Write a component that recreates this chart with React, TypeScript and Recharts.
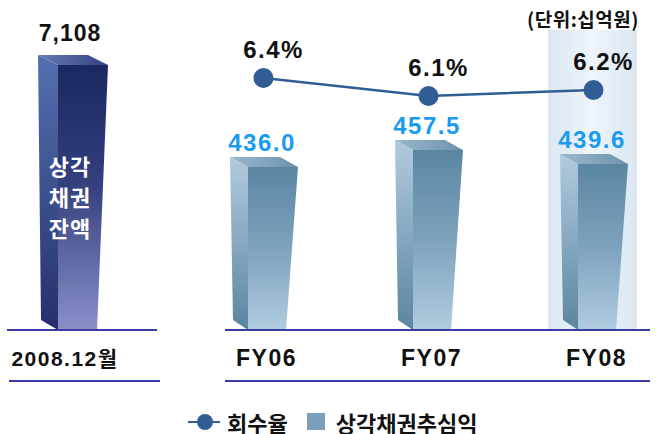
import React from "react";
import {
  Bar,
  ComposedChart,
  LabelList,
  Legend,
  Line,
  XAxis,
  YAxis,
} from "recharts";

// left panel: write-off balance at end of 2008
const balanceLabels = ["2008.12월"];
const balanceValues = [7108];
const balanceCaption = ["상각", "채권", "잔액"];

// right panel: yearly collections and recovery rate
const years = ["FY06", "FY07", "FY08"];
const collections = [436.0, 457.5, 439.6];
const recoveryRates = [6.4, 6.1, 6.2];
const highlightYear = "FY08";

const unitLabel = "(단위:십억원)";
const rateName = "회수율";
const collectionName = "상각채권추심익";

const balanceData = balanceLabels.map((name, i) => ({
  name,
  balance: balanceValues[i],
}));
const yearData = years.map((name, i) => ({
  name,
  collection: collections[i],
  rate: recoveryRates[i],
}));

const LATIN = "'Liberation Sans', Arial, 'Noto Sans CJK KR', sans-serif";
const KOREAN = "'Noto Sans CJK KR', 'Liberation Sans', sans-serif";
const RATE_COLOR = "#2f5d94";
const BAR_COLOR = "#7a9fbd";
const VALUE_COLOR = "#1a9bf0";
const RULE_COLOR = "#3b3ba6";

// fake 3D column: side face on the left, front face, top face above
const make3DBar =
  (ids: { side: string; front: string; top: string }, side: number, rise: number, taper: number) =>
  (props: any) => {
    const { x, y, width, height } = props;
    const fx = x + side;
    const rx = x + width;
    const by = y + height;
    return (
      <g>
        <polygon
          points={`${x},${y - rise} ${fx},${y} ${fx},${by} ${x + 3},${by - 10}`}
          fill={`url(#${ids.side})`}
        />
        <polygon
          points={`${fx},${y} ${rx},${y} ${rx - taper},${by} ${fx},${by}`}
          fill={`url(#${ids.front})`}
        />
        <polygon
          points={`${x},${y - rise} ${rx - side},${y - rise} ${rx},${y} ${fx},${y}`}
          fill={`url(#${ids.top})`}
        />
      </g>
    );
  };

const CategoryTick = ({ x, y, payload, shift = 0, size = 23 }: any) => (
  <text
    x={x + shift}
    y={y + 36}
    textAnchor="middle"
    fontSize={size}
    fontWeight={700}
    fill="#111"
    fontFamily={LATIN}
    letterSpacing={1.5}
  >
    {payload.value}
  </text>
);

const LegendContent = ({ payload }: any) => {
  const items = [...(payload || [])].sort(
    (a: any, b: any) => (a.type === "line" ? 0 : 1) - (b.type === "line" ? 0 : 1),
  );
  return (
    <div
      style={{
        display: "flex",
        alignItems: "center",
        fontFamily: KOREAN,
        fontWeight: 700,
        fontSize: 22,
        color: "#111",
        whiteSpace: "nowrap",
      }}
    >
      {items.map((item: any) =>
        item.type === "line" ? (
          <React.Fragment key={item.value}>
            <svg width={34} height={20}>
              <line x1={1} y1={10} x2={33} y2={10} stroke={RATE_COLOR} strokeWidth={2} />
              <circle cx={18} cy={10} r={8} fill={RATE_COLOR} />
            </svg>
            <span style={{ marginLeft: 6, marginRight: 19 }}>{item.value}</span>
          </React.Fragment>
        ) : (
          <React.Fragment key={item.value}>
            <svg width={19} height={20}>
              <rect x={0} y={1} width={18} height={17} fill={BAR_COLOR} />
            </svg>
            <span style={{ marginLeft: 10 }}>{item.value}</span>
          </React.Fragment>
        ),
      )}
    </div>
  );
};

export default function App() {
  return (
    <div
      style={{
        position: "absolute",
        left: 0,
        top: 0,
        width: 658,
        height: 434,
        background: "#fff",
      }}
    >
      {/* left: balance column */}
      <div style={{ position: "absolute", left: 0, top: 0 }}>
        <ComposedChart
          width={146}
          height={434}
          data={balanceData}
          margin={{ top: 55, right: 0, bottom: 0, left: 0 }}
        >
          <defs>
            <linearGradient id="balFront" x1="0" y1="0" x2="0" y2="1">
              <stop offset="0%" stopColor="#1b2760" />
              <stop offset="45%" stopColor="#34407e" />
              <stop offset="100%" stopColor="#8a90c8" />
            </linearGradient>
            <linearGradient id="balSide" x1="0" y1="0" x2="0" y2="1">
              <stop offset="0%" stopColor="#5470b0" />
              <stop offset="100%" stopColor="#262f6c" />
            </linearGradient>
            <linearGradient id="balTop" x1="0" y1="0" x2="1" y2="0">
              <stop offset="0%" stopColor="#6a7ab4" />
              <stop offset="100%" stopColor="#34437f" />
            </linearGradient>
          </defs>
          <XAxis
            dataKey="name"
            height={104}
            axisLine={false}
            tickLine={false}
            tickSize={0}
            tickMargin={0}
            tick={(p: any) => <CategoryTick {...p} shift={-8} size={21} />}
          />
          <YAxis hide domain={[0, (max: number) => max * 1.038]} allowDataOverflow />
          <Bar
            dataKey="balance"
            barSize={70}
            isAnimationActive={false}
            shape={make3DBar({ side: "balSide", front: "balFront", top: "balTop" }, 20, 10, 11)}
          >
            <LabelList
              dataKey="balance"
              content={(p: any) => (
                <g>
                  <text
                    x={p.x + p.width / 2 - 3}
                    y={p.y - 24}
                    textAnchor="middle"
                    fontSize={23}
                    fontWeight={700}
                    fill="#111"
                    fontFamily={LATIN}
                    letterSpacing={1}
                  >
                    {Number(p.value).toLocaleString("en-US")}
                  </text>
                  {balanceCaption.map((line, i) => (
                    <text
                      key={line}
                      x={p.x + p.width / 2 - 3}
                      y={p.y + p.height / 2 + 8 + (i - 1) * 31}
                      textAnchor="middle"
                      fontSize={22}
                      fontWeight={700}
                      fill="#fff"
                      fontFamily={KOREAN}
                      letterSpacing={1}
                    >
                      {line}
                    </text>
                  ))}
                </g>
              )}
            />
          </Bar>
        </ComposedChart>
      </div>

      {/* right: yearly collections + recovery rate */}
      <div style={{ position: "absolute", left: 181, top: 0, width: 477, height: 434, overflow: "hidden" }}>
        <ComposedChart
          width={495}
          height={434}
          data={yearData}
          margin={{ top: 30, right: 0, bottom: 0, left: 0 }}
        >
          <defs>
            <linearGradient id="colFront" x1="0" y1="0" x2="0" y2="1">
              <stop offset="0%" stopColor="#5a86a2" />
              <stop offset="50%" stopColor="#7ea2bd" />
              <stop offset="100%" stopColor="#b0cce0" />
            </linearGradient>
            <linearGradient id="colSide" x1="0" y1="0" x2="0" y2="1">
              <stop offset="0%" stopColor="#b2cbde" />
              <stop offset="50%" stopColor="#86a8c0" />
              <stop offset="100%" stopColor="#5a859f" />
            </linearGradient>
            <linearGradient id="colTop" x1="0" y1="0" x2="1" y2="0">
              <stop offset="0%" stopColor="#9ab8cd" />
              <stop offset="100%" stopColor="#6d93ae" />
            </linearGradient>
            <linearGradient id="band" x1="0" y1="0" x2="1" y2="0">
              <stop offset="0%" stopColor="#dbe7f2" />
              <stop offset="50%" stopColor="#eef4fa" />
              <stop offset="100%" stopColor="#dbe7f2" />
            </linearGradient>
          </defs>
          <XAxis
            dataKey="name"
            height={104}
            axisLine={false}
            tickLine={false}
            tickSize={0}
            tickMargin={0}
            tick={(p: any) => <CategoryTick {...p} shift={3} size={23} />}
          />
          <YAxis yAxisId="amt" hide domain={[230, 609]} allowDataOverflow />
          <YAxis
            yAxisId="rate"
            hide
            orientation="right"
            domain={[2.2, 7.2]}
            allowDataOverflow
          />
          <Legend
            layout="horizontal"
            verticalAlign="middle"
            align="center"
            content={<LegendContent />}
            wrapperStyle={{ left: 6, top: 406, width: 440, height: "auto" }}
          />
          <Bar
            yAxisId="amt"
            dataKey="collection"
            name={collectionName}
            barSize={68}
            fill={BAR_COLOR}
            isAnimationActive={false}
            background={(p: any) =>
              p.payload?.name === highlightYear ? (
                <rect
                  x={p.x - 12}
                  y={p.y}
                  width={p.width + 21}
                  height={p.height}
                  fill="url(#band)"
                />
              ) : (
                <g />
              )
            }
            shape={make3DBar({ side: "colSide", front: "colFront", top: "colTop" }, 18, 10, 12)}
          >
            <LabelList
              dataKey="collection"
              content={(p: any) => (
                <text
                  x={p.x + p.width / 2 - 2}
                  y={p.y - 16}
                  textAnchor="middle"
                  fontSize={24}
                  fontWeight={700}
                  fill={VALUE_COLOR}
                  fontFamily={LATIN}
                  letterSpacing={1.5}
                >
                  {Number(p.value).toFixed(1)}
                </text>
              )}
            />
          </Bar>
          <Line
            yAxisId="rate"
            dataKey="rate"
            name={rateName}
            stroke={RATE_COLOR}
            strokeWidth={2.5}
            dot={{ r: 10, fill: RATE_COLOR, stroke: RATE_COLOR, strokeWidth: 0 }}
            activeDot={false}
            isAnimationActive={false}
          >
            <LabelList
              dataKey="rate"
              content={(p: any) => (
                <text
                  x={p.x + 10}
                  y={p.y - 20}
                  textAnchor="middle"
                  fontSize={24}
                  fontWeight={700}
                  fill="#111"
                  fontFamily={LATIN}
                  letterSpacing={1.5}
                >
                  {`${Number(p.value).toFixed(1)}%`}
                </text>
              )}
            />
          </Line>
        </ComposedChart>
      </div>

      {/* baseline and category rules */}
      <svg
        width={658}
        height={434}
        style={{ position: "absolute", left: 0, top: 0, pointerEvents: "none" }}
      >
        <line x1={7} y1={330} x2={157} y2={330} stroke={RULE_COLOR} strokeWidth={2} />
        <line x1={9} y1={381} x2={160} y2={381} stroke={RULE_COLOR} strokeWidth={2} />
        <line x1={225} y1={330} x2={650} y2={330} stroke={RULE_COLOR} strokeWidth={2} />
        <line x1={225} y1={381} x2={650} y2={381} stroke={RULE_COLOR} strokeWidth={2} />
      </svg>

      <div
        style={{
          position: "absolute",
          left: 527,
          top: 6,
          fontFamily: KOREAN,
          fontWeight: 700,
          fontSize: 19,
          lineHeight: "26px",
          letterSpacing: 0.5,
          color: "#111",
          whiteSpace: "nowrap",
        }}
      >
        {unitLabel}
      </div>
    </div>
  );
}
